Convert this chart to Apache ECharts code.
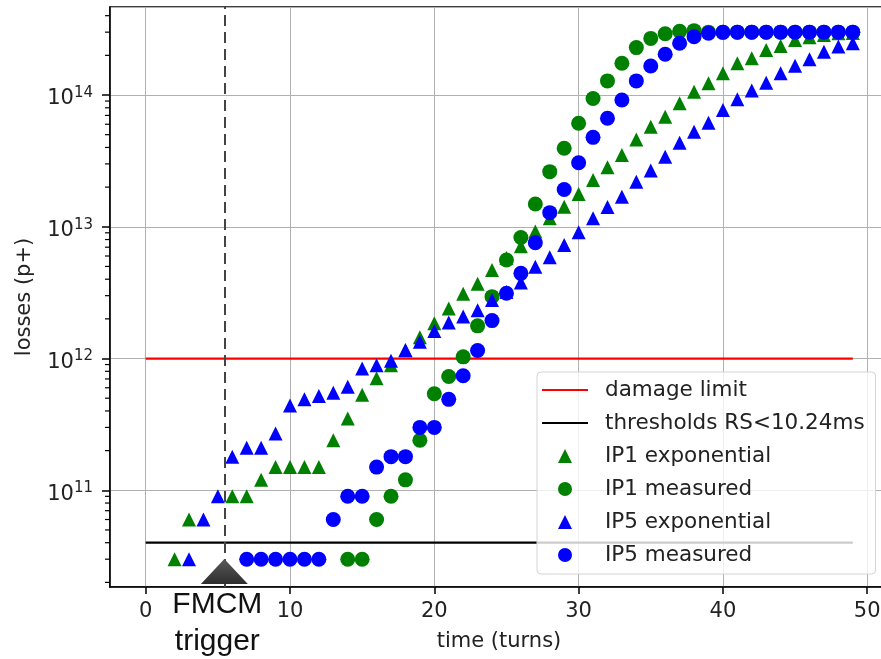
<!DOCTYPE html>
<html><head><meta charset="utf-8">
<script src="https://cdn.jsdelivr.net/npm/echarts@6/dist/echarts.min.js"></script>
<style>html,body{margin:0;padding:0;background:#fff}#c{width:881px;height:659px}</style>
</head><body><div id="c"></div>
<script>
// ---- data ----
const turns = [0,1,2,3,4,5,6,7,8,9,10,11,12,13,14,15,16,17,18,19,20,21,22,23,24,25,26,27,28,29,30,31,32,33,34,35,36,37,38,39,40,41,42,43,44,45,46,47,48,49];
const ip1Exponential = [null,null,3e10,6e10,null,null,9e10,9e10,1.2e11,1.5e11,
  1.5e11,1.5e11,1.5e11,2.4e11,3.5e11,5.3e11,7.1e11,8.9e11,1.15e12,1.45e12,
  1.85e12,2.4e12,3.1e12,3.7e12,4.7e12,5.8e12,7.1e12,9.2e12,1.16e13,1.42e13,
  1.77e13,2.26e13,2.83e13,3.5e13,4.6e13,5.75e13,6.85e13,8.65e13,1.06e14,1.23e14,
  1.46e14,1.74e14,1.9e14,2.2e14,2.35e14,2.61e14,2.74e14,2.85e14,2.94e14,2.96e14];
const ip1Measured = [null,null,null,null,null,null,null,null,null,null,
  null,null,null,null,3e10,3e10,6e10,9e10,1.2e11,2.4e11,
  5.4e11,7.3e11,1.03e12,1.77e12,2.95e12,5.6e12,8.3e12,1.49e13,2.62e13,3.94e13,
  6.1e13,9.4e13,1.28e14,1.74e14,2.29e14,2.69e14,2.92e14,3.05e14,3.08e14,3.0e14,
  3.0e14,3.0e14,3.0e14,3.0e14,3.0e14,3.0e14,3.0e14,3.0e14,3.0e14,3.0e14];
const ip5Exponential = [null,null,null,3e10,6e10,9e10,1.8e11,2.1e11,2.1e11,2.7e11,
  4.4e11,4.9e11,5.2e11,5.5e11,6.1e11,8.4e11,8.9e11,9.6e11,1.16e12,1.34e12,
  1.62e12,1.88e12,2.08e12,2.33e12,2.78e12,3.2e12,3.77e12,4.98e12,5.87e12,7.27e12,
  9.08e12,1.16e13,1.41e13,1.69e13,2.2e13,2.67e13,3.4e13,4.35e13,5.27e13,6.16e13,
  7.7e13,9.27e13,1.08e14,1.24e14,1.46e14,1.67e14,1.87e14,2.13e14,2.33e14,2.47e14];
const ip5Measured = [null,null,null,null,null,null,null,3e10,3e10,3e10,
  3e10,3e10,3e10,6e10,9e10,9e10,1.5e11,1.8e11,1.8e11,3e11,
  3e11,4.9e11,7.4e11,1.15e12,1.94e12,3.13e12,4.43e12,7.57e12,1.28e13,1.92e13,
  3.06e13,4.77e13,6.66e13,9.17e13,1.28e14,1.66e14,2.04e14,2.47e14,2.77e14,2.94e14,
  2.99e14,3e14,3e14,3e14,3e14,3e14,3e14,3e14,3e14,3e14];
const limitTurns = [0, 49];
const damageLimit = 1e12;
const thresholdRS = 4e10;
const fmcmTurn = 5.45;
const fmcmMarkerLevel = 2.42e10;
const minorTickValues = [2e10,3e10,4e10,5e10,6e10,7e10,8e10,9e10,
  2e11,3e11,4e11,5e11,6e11,7e11,8e11,9e11,
  2e12,3e12,4e12,5e12,6e12,7e12,8e12,9e12,
  2e13,3e13,4e13,5e13,6e13,7e13,8e13,9e13,
  2e14,3e14,4e14];
const legendNames = ['damage limit','thresholds RS<10.24ms','IP1 exponential','IP1 measured','IP5 exponential','IP5 measured'];

// ---- chart ----
const X_MIN = -2.474, X_MAX = 51.44;
const Y_MIN = 1.845e10, Y_MAX = 4.656e14;
const FONT = 'DejaVu Sans';
const TXT = '#222';
const LINE_ICON = 'path://M0,0 L46,0 L46,2.2 L0,2.2 Z';
const TRI_ICON = 'path://M7,0 L14,14 L0,14 Z';
const legendIcons = [LINE_ICON, LINE_ICON, TRI_ICON, 'circle', TRI_ICON, 'circle'];
function pairs(arr){ const out=[]; arr.forEach((v,i)=>{ if(v!=null) out.push([turns[i], v]); }); return out; }

const chart = echarts.init(document.getElementById('c'), null, {renderer:'canvas'});
chart.setOption({
  animation: false,
  backgroundColor: '#fff',
  grid: {left:110, top:7, right:-7, bottom:72, containLabel:false, outerBoundsMode:'none',
    show:true, borderColor:'#000', borderWidth:1.5, backgroundColor:'transparent'},
  legend: {
    orient:'vertical', left:537, top:372,
    data: legendNames.map((n,i)=>({name:n, icon:legendIcons[i]})),
    itemWidth:46, itemHeight:14, itemGap:11, symbolKeepAspect:true,
    padding:[7,11,8,5],
    backgroundColor:'rgba(255,255,255,0.8)', borderColor:'#d4d4d4', borderWidth:1, borderRadius:4,
    textStyle:{fontFamily:FONT, fontSize:21.5, color:TXT, lineHeight:21, padding:[0,0,0,12]},
    selectedMode:false
  },
  xAxis: {
    type:'value', min:X_MIN, max:X_MAX,
    name:'time (turns)', nameLocation:'middle', nameGap:44,
    nameTextStyle:{fontFamily:FONT, fontSize:21, color:TXT},
    axisLine:{show:true, onZero:false, lineStyle:{color:'#000', width:1.5}},
    axisTick:{show:true, inside:false, length:7, lineStyle:{color:'#000', width:1.5}},
    axisLabel:{fontFamily:FONT, fontSize:21, color:TXT, margin:14, showMinLabel:false, showMaxLabel:false},
    splitLine:{show:true, lineStyle:{color:'#b0b0b0', width:1}}
  },
  yAxis: {
    type:'log', logBase:10, min:Y_MIN, max:Y_MAX,
    name:'losses (p+)', nameLocation:'middle', nameGap:75, nameRotate:90,
    nameTextStyle:{fontFamily:FONT, fontSize:21, color:TXT},
    axisLine:{show:true, onZero:false, lineStyle:{color:'#000', width:1.5}},
    axisTick:{show:true, inside:false, length:8, lineStyle:{color:'#000', width:1.5}},
    axisLabel:{margin:17, showMinLabel:false, showMaxLabel:false,
      formatter:(v)=>{ const e=Math.log10(v); const r=Math.round(e); if(Math.abs(e-r)>1e-6) return ''; return '{b|10}{s|'+r+'}'; },
      rich:{
        b:{fontFamily:FONT, fontSize:21, color:TXT, lineHeight:22, padding:[8,0,0,0]},
        s:{fontFamily:FONT, fontSize:15, color:TXT, lineHeight:16, padding:[0,0,4,0]}
      }},
    splitLine:{show:true, lineStyle:{color:'#b0b0b0', width:1}}
  },
  series: [
    {name:'damage limit', type:'line', data: limitTurns.map(t=>[t, damageLimit]), symbol:'none', showSymbol:false,
      lineStyle:{color:'#ff0000', width:2.2}, itemStyle:{color:'#ff0000'}, z:2,
      markLine:{silent:true, symbol:'none', animation:false,
        lineStyle:{type:[11,6], color:'#444', width:2},
        label:{show:false}, data:[{xAxis: fmcmTurn}]}},
    {name:'thresholds RS<10.24ms', type:'line', data: limitTurns.map(t=>[t, thresholdRS]), symbol:'none', showSymbol:false,
      lineStyle:{color:'#000', width:2.2}, itemStyle:{color:'#000'}, z:2,
      markPoint:{silent:true, animation:false, symbol:'triangle', symbolSize:[47,25],
        itemStyle:{color:new echarts.graphic.LinearGradient(0,0,0,1,[{offset:0,color:'#5a5a5a'},{offset:1,color:'#2e2e2e'}])},
        label:{show:true, position:'bottom', distance:2, offset:[-7,0], formatter:'FMCM\ntrigger',
          fontFamily:'Liberation Sans', fontSize:30, lineHeight:37, color:'#111'},
        data:[{coord:[fmcmTurn, fmcmMarkerLevel]}]}},
    {name:'IP1 exponential', type:'scatter', data: pairs(ip1Exponential), symbol:'triangle', symbolSize:14,
      itemStyle:{color:'#008000', opacity:1}, z:3},
    {name:'IP1 measured', type:'scatter', data: pairs(ip1Measured), symbol:'circle', symbolSize:15,
      itemStyle:{color:'#008000', opacity:1}, z:3},
    {name:'IP5 exponential', type:'scatter', data: pairs(ip5Exponential), symbol:'triangle', symbolSize:14,
      itemStyle:{color:'#0000ff', opacity:1}, z:3},
    {name:'IP5 measured', type:'scatter', data: pairs(ip5Measured), symbol:'circle', symbolSize:15,
      itemStyle:{color:'#0000ff', opacity:1}, z:3},
    {name:'minorTicks', type:'custom', coordinateSystem:'cartesian2d', silent:true, clip:false, z:3,
      data: minorTickValues.map(v=>[X_MIN, v]),
      renderItem:(params, api)=>{ const p = api.coord([api.value(0), api.value(1)]);
        return {type:'line', shape:{x1:p[0]-5, y1:p[1], x2:p[0], y2:p[1]}, style:{stroke:'#000', lineWidth:1.2}}; }}
  ]
});
</script></body></html>
